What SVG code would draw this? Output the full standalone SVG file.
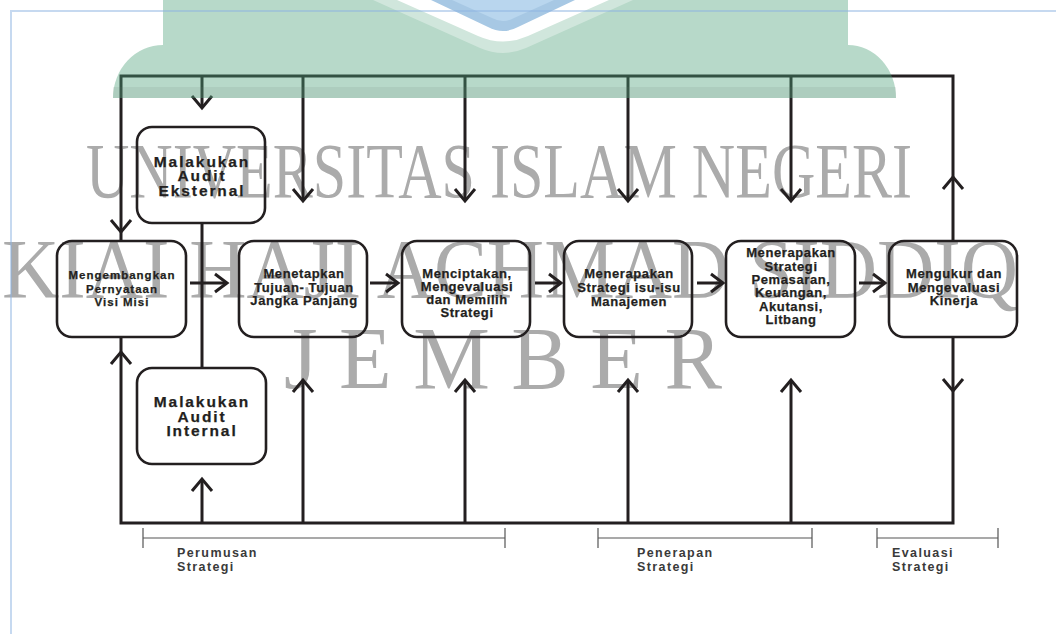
<svg xmlns="http://www.w3.org/2000/svg" xmlns:xlink="http://www.w3.org/1999/xlink" width="1056" height="634" viewBox="0 0 1056 634">
<style>
.wm{font-family:"Liberation Serif","Times New Roman",serif;fill:#ababab}
.ln{fill:none;stroke:#231f20;stroke-width:3;stroke-linecap:butt}
.ch{fill:none;stroke:#231f20;stroke-width:3;stroke-linejoin:miter}
.box{fill:none;stroke:#231f20;stroke-width:2.6}
.t{font-family:"Liberation Sans",Arial,sans-serif;font-weight:bold;fill:#231f20;stroke:#231f20;stroke-width:0.25;text-anchor:middle;font-size:13px;letter-spacing:0.6px}
.t1{font-size:11.5px;letter-spacing:1px}
.ta{font-size:15.5px;letter-spacing:1.9px}
.lb{font-family:"Liberation Sans",Arial,sans-serif;font-weight:bold;fill:#3a3a3a;font-size:12.5px;letter-spacing:1.4px}
.br{fill:none;stroke:#555;stroke-width:1.2}
</style>
<defs>
<path id="chevD" d="M-10,-12 L0,0 L10,-12"/>
<path id="chevU" d="M-10,12 L0,0 L10,12"/>
<path id="chevR" d="M-12,-9 L0,0 L-12,9"/>
</defs>
<rect width="1056" height="634" fill="#ffffff"/>
<g id="watermark-text">
<text class="wm" x="86" y="197" font-size="78" textLength="826" lengthAdjust="spacingAndGlyphs">UNIVERSITAS ISLAM NEGERI</text>
<text class="wm" x="2" y="298" font-size="85" textLength="1016" lengthAdjust="spacingAndGlyphs">KIAI HAJI ACHMAD SIDDIQ</text>
<text class="wm" x="284" y="388" font-size="88" textLength="438" lengthAdjust="spacingAndGlyphs">J E M B E R</text>
</g>
<g id="connectors">
<path class="ln" d="M121,241 V76 H953 V241"/>
<path class="ln" d="M121,337 V523 H953 V337"/>
<path class="ln" d="M202,76 V108"/>
<path class="ln" d="M303,76 V201"/>
<path class="ln" d="M465,76 V201"/>
<path class="ln" d="M628,76 V201"/>
<path class="ln" d="M791,76 V201"/>
<path class="ln" d="M202,223 V368"/>
<path class="ln" d="M202,523 V479"/>
<path class="ln" d="M303,523 V380"/>
<path class="ln" d="M465,523 V380"/>
<path class="ln" d="M628,523 V380"/>
<path class="ln" d="M791,523 V380"/>
<path class="ln" d="M190,283 H227"/>
<path class="ln" d="M370,283 H398"/>
<path class="ln" d="M535,283 H561"/>
<path class="ln" d="M697,283 H723"/>
<path class="ln" d="M859,283 H885"/>
<use class="ch" xlink:href="#chevD" x="121" y="232"/>
<use class="ch" xlink:href="#chevD" x="202" y="108"/>
<use class="ch" xlink:href="#chevD" x="303" y="201"/>
<use class="ch" xlink:href="#chevD" x="465" y="201"/>
<use class="ch" xlink:href="#chevD" x="628" y="201"/>
<use class="ch" xlink:href="#chevD" x="791" y="201"/>
<use class="ch" xlink:href="#chevU" x="953" y="177"/>
<use class="ch" xlink:href="#chevD" x="953" y="391"/>
<use class="ch" xlink:href="#chevU" x="121" y="352"/>
<use class="ch" xlink:href="#chevU" x="202" y="479"/>
<use class="ch" xlink:href="#chevU" x="303" y="380"/>
<use class="ch" xlink:href="#chevU" x="465" y="380"/>
<use class="ch" xlink:href="#chevU" x="628" y="380"/>
<use class="ch" xlink:href="#chevU" x="791" y="380"/>
<use class="ch" xlink:href="#chevR" x="227" y="283"/>
<use class="ch" xlink:href="#chevR" x="398" y="283"/>
<use class="ch" xlink:href="#chevR" x="561" y="283"/>
<use class="ch" xlink:href="#chevR" x="723" y="283"/>
<use class="ch" xlink:href="#chevR" x="885" y="283"/>
</g>
<g id="node-visi-misi">
<rect class="box" x="57" y="241" width="129" height="96" rx="15"/>
<text class="t t1" x="122" y="279">Mengembangkan</text>
<text class="t t1" x="122" y="292.5">Pernyataan</text>
<text class="t t1" x="122" y="306">Visi Misi</text>
</g>
<g id="node-audit-eksternal">
<rect class="box" x="137" y="127" width="128" height="96" rx="15"/>
<text class="t ta" x="202" y="167">Malakukan</text>
<text class="t ta" x="202" y="181">Audit</text>
<text class="t ta" x="202" y="196">Eksternal</text>
</g>
<g id="node-audit-internal">
<rect class="box" x="137" y="368" width="129" height="96" rx="15"/>
<text class="t ta" x="202" y="407">Malakukan</text>
<text class="t ta" x="202" y="422">Audit</text>
<text class="t ta" x="202" y="436">Internal</text>
</g>
<g id="node-tujuan">
<rect class="box" x="239" y="241" width="128" height="96" rx="15"/>
<text class="t" x="304" y="278">Menetapkan</text>
<text class="t" x="304" y="291.5">Tujuan- Tujuan</text>
<text class="t" x="304" y="305">Jangka Panjang</text>
</g>
<g id="node-strategi">
<rect class="box" x="402" y="241" width="128" height="96" rx="15"/>
<text class="t" x="467" y="277.5">Menciptakan,</text>
<text class="t" x="467" y="291">Mengevaluasi</text>
<text class="t" x="467" y="304">dan Memilih</text>
<text class="t" x="467" y="317">Strategi</text>
</g>
<g id="node-isu">
<rect class="box" x="564" y="241" width="128" height="96" rx="15"/>
<text class="t" x="629" y="278">Menerapakan</text>
<text class="t" x="629" y="292">Strategi isu-isu</text>
<text class="t" x="629" y="306">Manajemen</text>
</g>
<g id="node-fungsional">
<rect class="box" x="726" y="241" width="129" height="96" rx="15"/>
<text class="t" x="791" y="257">Menerapakan</text>
<text class="t" x="791" y="270.5">Strategi</text>
<text class="t" x="791" y="284">Pemasaran,</text>
<text class="t" x="791" y="297">Keuangan,</text>
<text class="t" x="791" y="310.5">Akutansi,</text>
<text class="t" x="791" y="324">Litbang</text>
</g>
<g id="node-kinerja">
<rect class="box" x="889" y="241" width="128" height="96" rx="15"/>
<text class="t" x="954" y="278">Mengukur dan</text>
<text class="t" x="954" y="292">Mengevaluasi</text>
<text class="t" x="954" y="305">Kinerja</text>
</g>
<g id="phase-perumusan">
<path class="br" d="M143,528 V548 M143,538 H505 M505,528 V548"/>
<text class="lb" x="177" y="557">Perumusan</text>
<text class="lb" x="177" y="571">Strategi</text>
</g>
<g id="phase-penerapan">
<path class="br" d="M598,528 V548 M598,538 H812 M812,528 V548"/>
<text class="lb" x="637" y="557">Penerapan</text>
<text class="lb" x="637" y="571">Strategi</text>
</g>
<g id="phase-evaluasi">
<path class="br" d="M877,528 V548 M877,538 H998 M998,528 V548"/>
<text class="lb" x="892" y="557">Evaluasi</text>
<text class="lb" x="892" y="571">Strategi</text>
</g>
<g id="watermark-logo">
<path d="M163,0 V45 A50,53 0 0 0 113,98 H896 A48,53 0 0 0 848,45 V0 Z" fill="#4ba078" opacity="0.4"/>
<rect x="113" y="87" width="783" height="11" fill="#6f7f75" opacity="0.12"/>
<path d="M373,0 L480,48 Q503,58 526,48 L633,0 Z" fill="#ffffff" opacity="0.35"/>
<path d="M397,0 L478,36 Q503,47 528,36 L609,0 Z" fill="#ffffff"/>
<path d="M431,0 L488,27 Q503,35 518,27 L575,0 Z" fill="#a7c8e4"/>
<path d="M452,0 L492,18 Q503,24 514,18 L554,0 Z" fill="#b9d6ee"/>
</g>
<g id="page-border">
<path d="M11,634 V11 H1056" fill="none" stroke="#8db3e2" stroke-width="2" opacity="0.5"/>
</g>
</svg>
